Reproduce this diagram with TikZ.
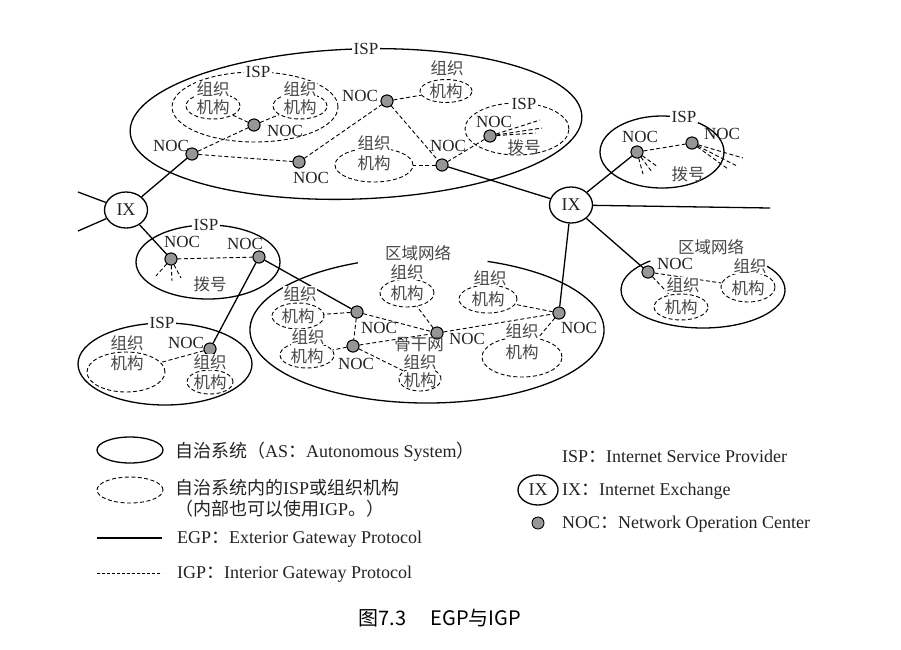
\documentclass[tikz,border=0pt]{standalone}
\usepackage{fontspec}
\setmainfont{Liberation Serif}
\newfontfamily\cjk{Noto Sans CJK SC}
\usetikzlibrary{shapes.geometric}
\definecolor{nocgray}{RGB}{150,150,150}
\definecolor{txt}{RGB}{35,35,35}
\definecolor{zhc}{RGB}{70,70,70}
\begin{document}
\begin{tikzpicture}[x=1pt,y=-1pt,
  sz/.style 2 args={minimum width=#1pt, minimum height=#2pt},
  as/.style={ellipse, draw, line width=1.3pt, inner sep=0pt},
  aspath/.style={line width=1.3pt},
  org/.style={ellipse, draw, dash pattern=on 4pt off 2.5pt, line width=0.9pt, inner sep=0pt},
  noc/.style={circle, draw, fill=nocgray, line width=0.9pt, minimum size=12pt, inner sep=0pt},
  ix/.style={ellipse, draw, line width=1.3pt, minimum width=43pt, minimum height=36pt, inner sep=0pt, font=\fontsize{18}{19}\selectfont, text=txt},
  lbl/.style={font=\fontsize{17}{18}\selectfont, text=txt, inner sep=0.5pt},
  lblw/.style={lbl, fill=white, inner xsep=2pt},
  zh/.style={font=\fontsize{16.5}{18}\selectfont\cjk, text=zhc, inner sep=0.5pt},
  zhw/.style={zh, fill=white},
  egp/.style={line width=1.3pt},
  igp/.style={dash pattern=on 4pt off 2.5pt, line width=0.9pt},
  leg/.style={font=\fontsize{18}{20}\selectfont, text=txt, anchor=west, inner sep=0pt},
]
\useasboundingbox (0,0) rectangle (901,649);

% ===== Autonomous systems =====
\node[as, sz={452}{150}, rotate=2] (asTop) at (356,124) {};
\node[lblw] (asTopL) at (366,49) {ISP};
\node[as, sz={124}{72}] (asTR) at (662,152) {};
\node[lblw] (asTRL) at (684,117) {ISP};
\node[as, sz={144}{74}] (asML) at (208,262) {};
\node[lblw] (asMLL) at (206,225) {ISP};
\node[as, sz={174}{82}] (asBL) at (165,364) {};
\node[lblw] (asBLL) at (162,323) {ISP};
\draw[aspath] (427,330) ++(290:177 and 73) arc[start angle=290, end angle=607, x radius=177, y radius=73];
\node[zh] (regCL) at (418,253) {区域网络};
\draw[aspath] (703,290) ++(316:82 and 38) arc[start angle=316, end angle=590, x radius=82, y radius=38];
\node[zh] (regRL) at (711,247) {区域网络};

% ===== dashed ISP / organisations =====
\node[org, sz={166}{70}] (ispA) at (255,107) {};
\node[lblw] (ispAL) at (258,72) {ISP};
\node[org, sz={104}{52}] (ispB) at (517,129) {};
\node[lblw] (ispBL) at (524,104) {ISP};

% org ellipses (机构) -- top
\node[org, sz={54}{26}] (oA1) at (213,106) {};
\node[org, sz={54}{26}] (oA2) at (300,106) {};
\node[org, sz={52}{23}] (oA3) at (446,91) {};
\node[org, sz={78}{34}] (oA4) at (374,165) {};
% right region
\node[org, sz={54}{30}] (oR1) at (748,287) {};
\node[org, sz={54}{26}] (oR2) at (681,307) {};
% bottom-left ISP
\node[org, sz={78}{40}] (oB1) at (126,372) {};
\node[org, sz={46}{24}] (oB2) at (210,382) {};
% centre region
\node[org, sz={54}{28}] (oC1) at (407,293) {};
\node[org, sz={58}{28}] (oC2) at (488,299) {};
\node[org, sz={52}{26}] (oC3) at (298,316) {};
\node[org, sz={54}{26}] (oC4) at (307,355) {};
\node[org, sz={42}{24}] (oC5) at (420,379) {};
\node[org, sz={80}{40}] (oC6) at (522,357) {};

% ===== IX =====
\node[ix] (ixL) at (126,210) {IX};
\node[ix] (ixR) at (571,205) {IX};
\coordinate (ixLa) at (78,192);
\coordinate (ixLb) at (78,231);
\coordinate (ixRa) at (770,208);

% ===== NOC dots =====
\node[noc] (nA) at (254,125) {};
\node[noc] (nB) at (192,154) {};
\node[noc] (nC) at (299,162) {};
\node[noc] (nD) at (387,101) {};
\node[noc] (nE) at (442,165) {};
\node[noc] (nF) at (490,136) {};
\node[noc] (nG) at (637,152) {};
\node[noc] (nH) at (692,143) {};
\node[noc] (nI) at (648,272) {};
\node[noc] (nJ) at (171,259) {};
\node[noc] (nK) at (259,257) {};
\node[noc] (nL) at (210,349) {};
\node[noc] (nM) at (357,312) {};
\node[noc] (nN) at (353,346) {};
\node[noc] (nO) at (437,333) {};
\node[noc] (nP) at (559,313) {};

% fan (dial-up) end points
\coordinate (fF1) at (540,120);
\coordinate (fF2) at (542,128);
\coordinate (fF3) at (536,133);
\coordinate (fG1) at (643,174);
\coordinate (fG2) at (652,172);
\coordinate (fG3) at (658,167);
\coordinate (fH1) at (743,158);
\coordinate (fH2) at (737,166);
\coordinate (fH3) at (728,169);
\coordinate (fJ1) at (156,276);
\coordinate (fJ2) at (172,281);
\coordinate (fJ3) at (181,278);

% ===== EGP (solid) =====
\draw[egp] (ixL) -- (ixLa);
\draw[egp] (ixL) -- (ixLb);
\draw[egp] (ixL) -- (nB);
\draw[egp] (ixL) -- (nJ);
\draw[egp] (nE) -- (ixR);
\draw[egp] (ixR) -- (ixRa);
\draw[egp] (ixR) -- (nG);
\draw[egp] (ixR) -- (nI);
\draw[egp] (ixR) -- (nP);
\draw[egp] (nK) -- (nL);
\draw[egp] (nK) -- (nM);

% ===== IGP (dashed) =====
\draw[igp] (nB) -- (nA);
\draw[igp] (nA) -- (oA1);
\draw[igp] (nA) -- (oA2);
\draw[igp] (nB) -- (nC);
\draw[igp] (nC) -- (nD);
\draw[igp] (nD) -- (oA3);
\draw[igp] (nD) -- (nE);
\draw[igp] (nE) -- (oA4);
\draw[igp] (nE) -- (nF);
\draw[igp] (nF) -- (fF1);
\draw[igp] (nF) -- (fF2);
\draw[igp] (nF) -- (fF3);
\draw[igp] (nG) -- (nH);
\draw[igp] (nG) -- (fG1);
\draw[igp] (nG) -- (fG2);
\draw[igp] (nG) -- (fG3);
\draw[igp] (nH) -- (fH1);
\draw[igp] (nH) -- (fH2);
\draw[igp] (nH) -- (fH3);
\draw[igp] (nI) -- (oR1);
\draw[igp] (nI) -- (oR2);
\draw[igp] (nJ) -- (nK);
\draw[igp] (nJ) -- (fJ1);
\draw[igp] (nJ) -- (fJ2);
\draw[igp] (nJ) -- (fJ3);
\draw[igp] (nL) -- (oB1);
\draw[igp] (nM) -- (nO);
\draw[igp] (nM) -- (nN);
\draw[igp] (nN) -- (nO);
\draw[igp] (nO) -- (nP);
\draw[igp] (nM) -- (oC3);
\draw[igp] (nN) -- (oC4);
\draw[igp] (nN) -- (oC5);
\draw[igp] (nO) -- (oC1);
\draw[igp] (nP) -- (oC2);
\draw[igp] (nP) -- (oC6);

% redraw dots on top
\foreach \n in {nA,nB,nC,nD,nE,nF,nG,nH,nI,nJ,nK,nL,nM,nN,nO,nP}
  \node[noc] at (\n) {};

% ===== org texts =====
\node[zhw] (tA1a) at (213,89) {组织};  \node[zh] (tA1b) at (213,107) {机构};
\node[zhw] (tA2a) at (300,89) {组织};  \node[zh] (tA2b) at (300,107) {机构};
\node[zhw] (tA3a) at (447,68) {组织};  \node[zh] (tA3b) at (446,91) {机构};
\node[zhw] (tA4a) at (374,143) {组织}; \node[zh] (tA4b) at (374,163) {机构};
\node[zhw] (tR1a) at (750,266) {组织}; \node[zh] (tR1b) at (748,288) {机构};
\node[zhw] (tR2a) at (683,285) {组织}; \node[zh] (tR2b) at (681,307) {机构};
\node[zhw] (tB1a) at (127,343) {组织}; \node[zh] (tB1b) at (127,363) {机构};
\node[zhw] (tB2a) at (210,362) {组织}; \node[zh] (tB2b) at (210,382) {机构};
\node[zhw] (tC1a) at (407,272) {组织}; \node[zh] (tC1b) at (407,293) {机构};
\node[zhw] (tC2a) at (490,278) {组织}; \node[zh] (tC2b) at (488,299) {机构};
\node[zhw] (tC3a) at (300,294) {组织}; \node[zh] (tC3b) at (298,316) {机构};
\node[zhw] (tC4a) at (308,337) {组织}; \node[zh] (tC4b) at (307,356) {机构};
\node[zhw] (tC5a) at (420,362) {组织}; \node[zh] (tC5b) at (420,380) {机构};
\node[zhw] (tC6a) at (522,331) {组织}; \node[zh] (tC6b) at (522,352) {机构};

% ===== other texts =====
\node[zh] (dF) at (524,147) {拨号};
\node[zh] (dG) at (688,174) {拨号};
\node[zh] (dJ) at (210,284) {拨号};
\node[zh] (bb) at (419,345) {骨干网};

% NOC labels
\node[lbl] (lA) at (285,131) {NOC};
\node[lbl] (lB) at (171,146) {NOC};
\node[lbl] (lC) at (311,178) {NOC};
\node[lbl] (lD) at (360,96) {NOC};
\node[lbl] (lE) at (448,146) {NOC};
\node[lbl] (lF) at (494,122) {NOC};
\node[lbl] (lG) at (640,137) {NOC};
\node[lbl] (lH) at (722,134) {NOC};
\node[lbl] (lI) at (675,264) {NOC};
\node[lbl] (lJ) at (182,242) {NOC};
\node[lbl] (lK) at (245,244) {NOC};
\node[lbl] (lL) at (186,343) {NOC};
\node[lbl] (lM) at (379,328) {NOC};
\node[lbl] (lN) at (356,364) {NOC};
\node[lbl] (lO) at (467,339) {NOC};
\node[lbl] (lP) at (579,328) {NOC};

% ===== legend =====
\node[as, sz={66}{26}] (kAS) at (130,450) {};
\node[leg] (kASt) at (175,452) {{\cjk 自治系统（}AS{\cjk ：}Autonomous System{\cjk ）}};
\node[org, sz={66}{26}] (kORG) at (130,490) {};
\node[leg] (kORGt1) at (175,488) {{\cjk 自治系统内的}ISP{\cjk 或组织机构}};
\node[leg] (kORGt2) at (175,509) {{\cjk （内部也可以使用}IGP{\cjk 。）}};
\coordinate (kE1) at (97,538);
\coordinate (kE2) at (162,538);
\draw[egp] (kE1) -- (kE2);
\node[leg] (kEt) at (177,539) {EGP{\cjk ：}Exterior Gateway Protocol};
\coordinate (kI1) at (97,573);
\coordinate (kI2) at (162,573);
\draw[igp, dash pattern=on 3pt off 2pt] (kI1) -- (kI2);
\node[leg] (kIt) at (177,574) {IGP{\cjk ：}Interior Gateway Protocol};

\node[leg] (kISP) at (562,456) {ISP{\cjk ：}Internet Service Provider};
\node[ix, minimum width=40pt, minimum height=30pt] (kIX) at (538,490) {IX};
\node[leg] (kIXt) at (562,491) {IX{\cjk ：}Internet Exchange};
\node[noc] (kNOC) at (538,523) {};
\node[leg] (kNOCt) at (562,524) {NOC{\cjk ：}Network Operation Center};

% caption
\node[font=\fontsize{20}{22}\selectfont\cjk, text=black] (cap) at (440,618) {图7.3\hspace{24pt}EGP与IGP};
\end{tikzpicture}
\end{document}
